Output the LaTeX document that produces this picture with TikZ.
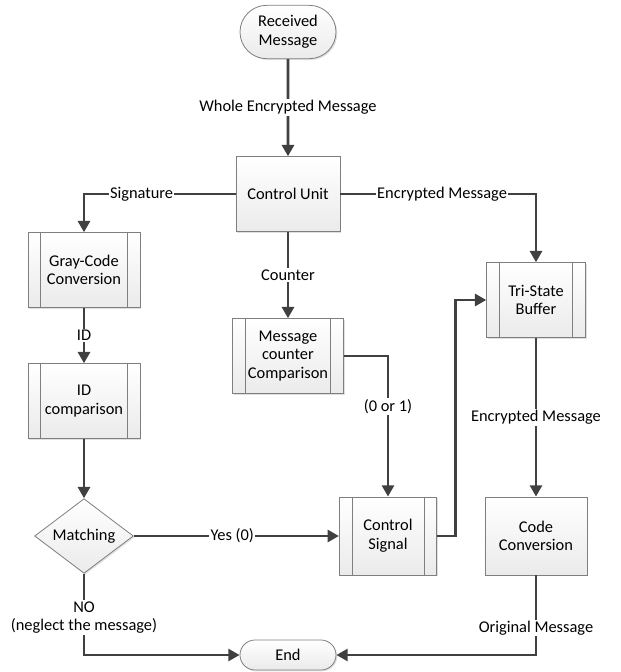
\documentclass[tikz,border=0pt]{standalone}
\usepackage{fontspec}
\setmainfont{Carlito}
\usepackage{xcolor}
\usetikzlibrary{arrows.meta}
\usetikzlibrary{shapes.geometric, shapes.misc, positioning, shadows}

\definecolor{flowgray}{HTML}{404040}
\definecolor{boxgray}{HTML}{7F7F7F}

\begin{document}
\begin{tikzpicture}[->,>={Triangle[length=8.5pt,width=9pt]},on grid,
            font=\fontsize{12.3}{14}\selectfont,
            base/.style={draw=boxgray, line width=0.6pt, top color=white,
                bottom color=black!8, align=center,
                drop shadow={shadow xshift=1pt, shadow yshift=-1pt, opacity=0.25}},
            term/.style={base, rounded rectangle, minimum width=74pt,
                minimum height=40pt, inner sep=1pt},
            proc/.style={base, rectangle, minimum width=78pt, minimum height=56pt},
            subproc/.style={proc, path picture={
                \draw[-, draw=boxgray, line width=0.6pt]
                ([xshift=9.5pt]path picture bounding box.north west) --
                ([xshift=9.5pt]path picture bounding box.south west)
                ([xshift=-9.5pt]path picture bounding box.north east) --
                ([xshift=-9.5pt]path picture bounding box.south east);}},
            decision/.style={base, diamond, aspect=1.35, minimum width=74pt,
                minimum height=56pt, inner sep=0pt},
            flow/.style={draw=flowgray, line width=2.2pt},
            lbl/.style={fill=white, inner sep=1pt, align=center, text=black}]
            \useasboundingbox (-216pt,24pt) rectangle (249.75pt,-480pt);

            \node[term] (recv) {Received\\Message};
            \node[proc] (ctrl) [below=121.5pt of recv] {Control Unit};
            \node[subproc, minimum width=84pt] (gray) [below left=57pt and 153pt of ctrl] {Gray-Code\\Conversion};
            \node[subproc, minimum width=84pt] (idc) [below=98.25pt of gray] {ID\\comparison};
            \node[decision] (match) [below=101.25pt of idc] {Matching};
            \node[subproc, minimum width=83pt] (msgc) [below=121.5pt of ctrl] {Message\\counter\\Comparison};
            \node[subproc, minimum width=73pt, minimum height=58.5pt] (sig) [right=228pt of match] {Control\\Signal};
            \node[subproc, minimum width=74pt] (tri) [below right=79.5pt and 186pt of ctrl] {Tri-State\\Buffer};
            \node[proc, minimum width=76.5pt, minimum height=58.5pt] (code) [below=177pt of tri] {Code\\Conversion};
            \node[term, minimum height=22.5pt] (end) [below right=89.25pt and 153pt of match] {End};

            % From Received Message
            \path (recv) edge[flow] node[lbl] {Whole Encrypted Message} (ctrl);

            % From Control Unit
            \draw[flow] (ctrl) -| node[lbl, pos=0.31] {Signature} (gray);
            \draw[flow] (ctrl) -| node[lbl, pos=0.26] {Encrypted Message} (tri);
            \path (ctrl) edge[flow] node[lbl] {Counter} (msgc);

            % Left column
            \path (gray) edge[flow] node[lbl] {ID} (idc);
            \path (idc) edge[flow] (match);
            \draw[flow] (match) -- node[lbl, pos=0.48] {Yes (0)} (sig);
            \draw[flow] (match) |- node[lbl, pos=0.27] {NO\\(neglect the message)} (end);

            % Middle column
            \draw[flow] (msgc) -| node[lbl, pos=0.68] {(0 or 1)} (sig);
            \draw[flow] (sig.east) -- ++(14pt,0) |- (tri);

            % Right column
            \path (tri) edge[flow] node[lbl] {Encrypted Message} (code);
            \draw[flow] (code) |- node[lbl, pos=0.33] {Original Message} (end);

        \end{tikzpicture}
\end{document}
